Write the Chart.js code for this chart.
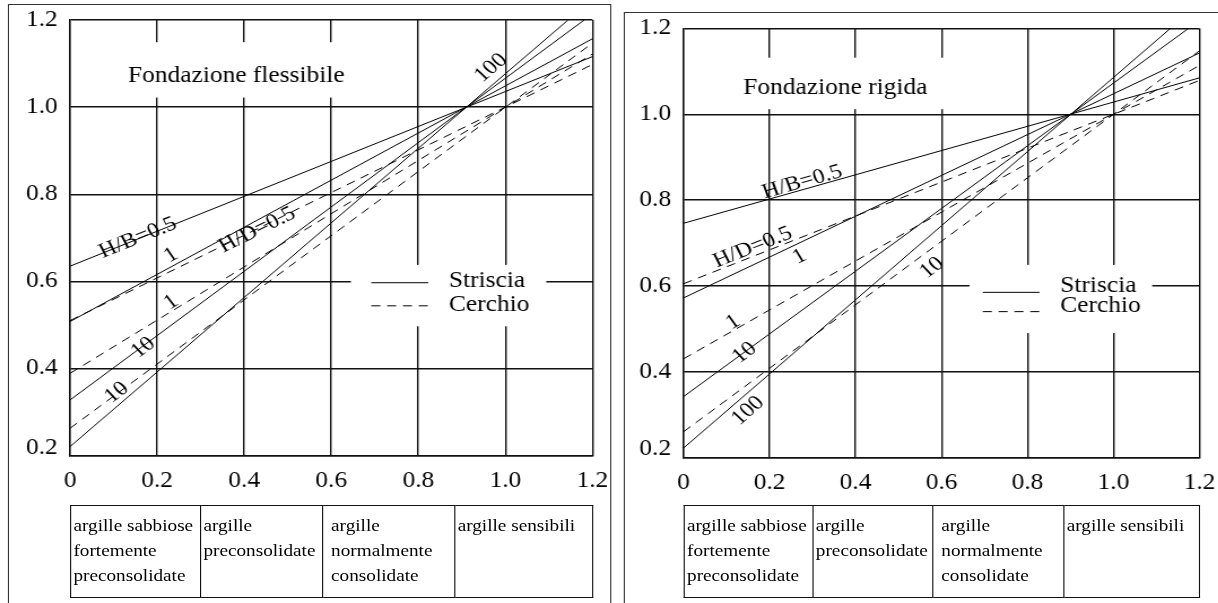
<!DOCTYPE html>
<html>
<head>
<meta charset="utf-8">
<script src="https://cdn.jsdelivr.net/npm/chart.js@4.4.1/dist/chart.umd.min.js"></script>
<style>
  html, body { margin: 0; padding: 0; background: #fff; }
  body { width: 1218px; height: 603px; overflow: hidden; position: relative; }
  /* the original picture is stretched sideways, so is this page */
  #page { position: absolute; left: 0; top: 0; width: 1078px; height: 603px; transform: scaleX(1.13); transform-origin: 0 0; }
  .panel { position: absolute; border: 1px solid #333; box-sizing: border-box; height: 700px; }
  #panelL { left: 7px; top: 4px; width: 534px; }
  #panelR { left: 552px; top: 12px; width: 700px; }
  canvas { position: absolute; top: 0; }
  #chartL { left: 0; }
  #chartR { left: 545px; }
  table { position: absolute; top: 505px; border-collapse: collapse; table-layout: fixed;
          font-family: "Liberation Serif", serif; font-size: 17px; line-height: 25px; color: #000; }
  td { border: 1.3px solid #111; vertical-align: top; padding: 7px 0 0 2px; height: 84px; white-space: nowrap; }
  td.ind { padding-left: 7px; }
</style>
</head>
<body>
<div id="page">
  <div class="panel" id="panelL"></div>
  <div class="panel" id="panelR"></div>
  <canvas id="chartL" width="541" height="500"></canvas>
  <canvas id="chartR" width="534" height="500"></canvas>
  <table id="tabL" style="left:62px"></table>
  <table id="tabR" style="left:605px"></table>
</div>
<script>
var xTicks = ['0', '0.2', '0.4', '0.6', '0.8', '1.0', '1.2'];
var yTicks = ['0.2', '0.4', '0.6', '0.8', '1.0', '1.2'];

// line ends [x, y], H/B = 0.5, 1, 10, 100 (striscia) and H/D = 0.5, 1, 10 (cerchio)
var flexStriscia = [
    [[0, 0.635], [1.2, 1.116]],
    [[0, 0.508], [1.2, 1.157]],
    [[0, 0.328], [1.181, 1.2]],
    [[0, 0.221], [1.144, 1.2]]
];
var flexCerchio = [
    [[0, 0.51], [1.2, 1.098]],
    [[0, 0.389], [1.2, 1.122]],
    [[0, 0.263], [1.2, 1.147]]
];
var rigStriscia = [
    [[0, 0.746], [1.2, 1.085]],
    [[0, 0.572], [1.2, 1.143]],
    [[0, 0.342], [1.174, 1.2]],
    [[0, 0.222], [1.132, 1.2]]
];
var rigCerchio = [
    [[0, 0.605], [1.2, 1.079]],
    [[0, 0.43], [1.2, 1.114]],
    [[0, 0.26], [1.2, 1.148]]
];

var soilClasses = [
    ['argille sabbiose', 'fortemente', 'preconsolidate'],
    ['argille', 'preconsolidate'],
    ['argille', 'normalmente', 'consolidate'],
    ['argille sensibili']
];
var colWidthsL = [115, 108, 117, 122];
var colWidthsR = [114, 106, 116, 120];

var serif = '"Liberation Serif", "Times New Roman", serif';

// extras drawn on each chart (data coordinates)
var panels = {
    chartL: {
        title: ['Fondazione flessibile', 0.382, 1.071],
        boxes: [[0.13, 0.645, 1.022, 1.149], [0.645, 1.094, 0.497, 0.638]],
        legend: { x0: 0.692, x1: 0.823, tx: 0.87, solid: 0.597, dashed: 0.544, ts: 0.6, td: 0.546 },
        labels: [
            ['H/B=0.5', 0.156, 0.70, 's', 0],
            ['1', 0.232, 0.66, 's', 1],
            ['H/D=0.5', 0.43, 0.718, 'c', 0],
            ['1', 0.232, 0.552, 'c', 1],
            ['10', 0.168, 0.448, 's', 2],
            ['10', 0.107, 0.345, 'c', 2],
            ['100', 0.967, 1.09, 's', 3]
        ]
    },
    chartR: {
        title: ['Fondazione rigida', 0.353, 1.061],
        boxes: [[0.12, 0.625, 1.012, 1.132], [0.665, 1.09, 0.49, 0.649]],
        legend: { x0: 0.696, x1: 0.828, tx: 0.876, solid: 0.585, dashed: 0.54, ts: 0.6, td: 0.553 },
        labels: [
            ['H/B=0.5', 0.276, 0.842, 's', 0],
            ['H/D=0.5', 0.161, 0.69, 'c', 0],
            ['1', 0.27, 0.668, 's', 1],
            ['1', 0.115, 0.515, 'c', 1],
            ['10', 0.142, 0.444, 's', 2],
            ['100', 0.15, 0.309, 's', 3],
            ['10', 0.578, 0.642, 'c', 2]
        ]
    }
};

var decor = {
    id: 'decor',
    beforeDatasetsDraw: function (chart) {
        var p = panels[chart.canvas.id];
        var ctx = chart.ctx, xs = chart.scales.x, ys = chart.scales.y;
        ctx.save();
        ctx.fillStyle = '#fff';
        p.boxes.forEach(function (b) {
            var x1 = xs.getPixelForValue(b[0]), x2 = xs.getPixelForValue(b[1]);
            var y1 = ys.getPixelForValue(b[3]), y2 = ys.getPixelForValue(b[2]);
            ctx.fillRect(x1, y1, x2 - x1, y2 - y1);
        });
        ctx.restore();
    },
    afterDatasetsDraw: function (chart) {
        var p = panels[chart.canvas.id];
        var ctx = chart.ctx, xs = chart.scales.x, ys = chart.scales.y;
        var lines = chart.$lines;
        ctx.save();
        ctx.fillStyle = '#000';
        ctx.strokeStyle = '#000';

        ctx.font = '22.5px ' + serif;
        ctx.textAlign = 'center';
        ctx.textBaseline = 'middle';
        ctx.fillText(p.title[0], xs.getPixelForValue(p.title[1]), ys.getPixelForValue(p.title[2]));

        // legend
        var lg = p.legend;
        ctx.lineWidth = 1;
        ctx.beginPath();
        ctx.moveTo(xs.getPixelForValue(lg.x0), ys.getPixelForValue(lg.solid));
        ctx.lineTo(xs.getPixelForValue(lg.x1), ys.getPixelForValue(lg.solid));
        ctx.stroke();
        ctx.setLineDash([8, 6]);
        ctx.beginPath();
        ctx.moveTo(xs.getPixelForValue(lg.x0), ys.getPixelForValue(lg.dashed));
        ctx.lineTo(xs.getPixelForValue(lg.x1), ys.getPixelForValue(lg.dashed));
        ctx.stroke();
        ctx.setLineDash([]);
        ctx.textAlign = 'left';
        ctx.fillText('Striscia', xs.getPixelForValue(lg.tx), ys.getPixelForValue(lg.ts));
        ctx.fillText('Cerchio', xs.getPixelForValue(lg.tx), ys.getPixelForValue(lg.td));

        // labels along the lines
        ctx.font = '21px ' + serif;
        ctx.textAlign = 'center';
        p.labels.forEach(function (l) {
            var pts = lines[l[3]][l[4]];
            var a = Math.atan2(ys.getPixelForValue(pts[1][1]) - ys.getPixelForValue(pts[0][1]),
                               xs.getPixelForValue(pts[1][0]) - xs.getPixelForValue(pts[0][0]));
            ctx.save();
            ctx.translate(xs.getPixelForValue(l[1]), ys.getPixelForValue(l[2]));
            ctx.rotate(a);
            ctx.fillText(l[0], 0, 0);
            ctx.restore();
        });
        ctx.restore();
    }
};

function axis(min, max, labels, isX) {
    var s = {
        type: 'linear',
        min: min,
        max: max,
        grid: { color: '#111', lineWidth: 1.4, drawTicks: false },
        border: { display: true, color: '#111', width: 1.4 },
        ticks: {
            stepSize: 0.2,
            autoSkip: false,
            maxRotation: 0,
            color: '#000',
            padding: isX ? 2 : 11,
            font: { family: serif, size: 22.5, lineHeight: isX ? 1.2 : 0.72 },
            callback: function (v, i) {
                // the lowest y label sits a little above its line
                return (!isX && i === 0) ? [labels[i], ''] : labels[i];
            }
        }
    };
    if (isX) {
        // invisible tick marks push the labels down
        s.grid.drawTicks = true;
        s.grid.tickLength = 10;
        s.grid.tickColor = 'rgba(0,0,0,0)';
        s.afterFit = function (scale) { scale.height = 35; };
    } else {
        s.afterFit = function (scale) { scale.width = 50; };
    }
    return s;
}

function makeChart(id, striscia, cerchio, padding) {
    var datasets = [];
    striscia.forEach(function (pts) {
        datasets.push({
            data: pts.map(function (q) { return { x: q[0], y: q[1] }; }),
            showLine: true, pointRadius: 0, borderColor: '#000', borderWidth: 1
        });
    });
    cerchio.forEach(function (pts) {
        datasets.push({
            data: pts.map(function (q) { return { x: q[0], y: q[1] }; }),
            showLine: true, pointRadius: 0, borderColor: '#000', borderWidth: 1, borderDash: [8, 6]
        });
    });
    var chart = new Chart(document.getElementById(id), {
        type: 'scatter',
        data: { datasets: datasets },
        options: {
            responsive: false,
            animation: false,
            devicePixelRatio: 1,
            layout: { padding: padding },
            plugins: { legend: { display: false }, tooltip: { enabled: false } },
            scales: {
                x: axis(0, 1.2, xTicks, true),
                y: axis(0.2, 1.2, yTicks, false)
            }
        },
        plugins: [{ id: 'lines', beforeInit: function (c) { c.$lines = { s: striscia, c: cerchio }; } }, decor]
    });
    return chart;
}

function makeTable(id, widths) {
    var t = document.getElementById(id);
    var html = '<colgroup>';
    widths.forEach(function (w) { html += '<col style="width:' + w + 'px">'; });
    html += '</colgroup><tr>';
    soilClasses.forEach(function (c, i) {
        html += '<td' + (i === 2 ? ' class="ind"' : '') + '>' + c.join('<br>') + '</td>';
    });
    t.innerHTML = html + '</tr>';
}

makeChart('chartL', flexStriscia, flexCerchio, { left: 12, right: 16.7, top: 20, bottom: 9.3 });
makeChart('chartR', rigStriscia, rigCerchio, { left: 9.9, right: 17.5, top: 28.5, bottom: 7.5 });
makeTable('tabL', colWidthsL);
makeTable('tabR', colWidthsR);
</script>
</body>
</html>
